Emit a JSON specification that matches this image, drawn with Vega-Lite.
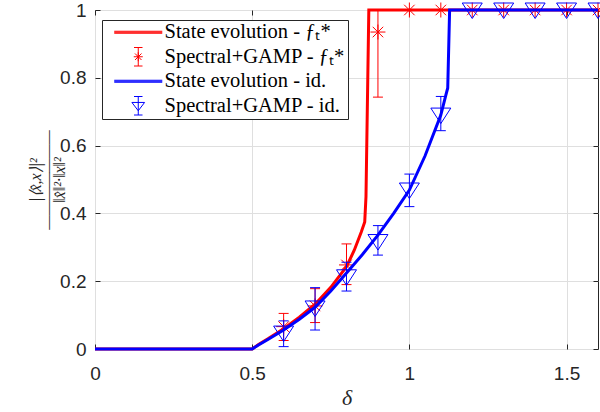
{
  "$schema": "https://vega.github.io/schema/vega-lite/v6.json",
  "width": 503,
  "height": 339,
  "autosize": "none",
  "padding": {"left": 95, "top": 10, "right": 2, "bottom": 63},
  "config": {
    "view": {"stroke": "#262626", "strokeWidth": 1},
    "axis": {
      "domain": false,
      "labelFont": "Liberation Sans",
      "labelFontSize": 19,
      "labelColor": "#262626",
      "labelFlush": false,
      "tickColor": "#262626",
      "tickSize": -5,
      "gridColor": "#dfdfdf",
      "gridWidth": 1,
      "titleColor": "#262626",
      "titleFontWeight": "normal"
    },
    "legend": {
      "orient": "none",
      "legendX": 7,
      "legendY": 10,
      "padding": 2,
      "strokeColor": "#262626",
      "fillColor": "white",
      "labelFont": "Liberation Serif",
      "labelFontSize": 20.5,
      "labelColor": "black",
      "symbolStrokeWidth": 1,
      "symbolSize": 100,
      "symbolOffset": 24,
      "labelOffset": 16,
      "rowPadding": 2.5,
      "labelLimit": 400
    }
  },
  "datasets": {
    "se": [
      {"s": "f", "d": 0, "v": 0}, {"s": "f", "d": 0.5, "v": 0}, {"s": "f", "d": 0.52, "v": 0.013},
      {"s": "f", "d": 0.55, "v": 0.03}, {"s": "f", "d": 0.6, "v": 0.06}, {"s": "f", "d": 0.65, "v": 0.094},
      {"s": "f", "d": 0.7, "v": 0.132}, {"s": "f", "d": 0.75, "v": 0.182}, {"s": "f", "d": 0.8, "v": 0.243},
      {"s": "f", "d": 0.825, "v": 0.292}, {"s": "f", "d": 0.847, "v": 0.345}, {"s": "f", "d": 0.858, "v": 0.375},
      {"s": "f", "d": 0.862, "v": 0.45}, {"s": "f", "d": 0.871, "v": 1}, {"s": "f", "d": 1.6, "v": 1},
      {"s": "id", "d": 0, "v": 0}, {"s": "id", "d": 0.5, "v": 0}, {"s": "id", "d": 0.52, "v": 0.012},
      {"s": "id", "d": 0.55, "v": 0.028}, {"s": "id", "d": 0.6, "v": 0.056}, {"s": "id", "d": 0.65, "v": 0.088},
      {"s": "id", "d": 0.7, "v": 0.123}, {"s": "id", "d": 0.75, "v": 0.171}, {"s": "id", "d": 0.8, "v": 0.224},
      {"s": "id", "d": 0.85, "v": 0.278}, {"s": "id", "d": 0.9, "v": 0.336}, {"s": "id", "d": 0.95, "v": 0.4},
      {"s": "id", "d": 1.0, "v": 0.469}, {"s": "id", "d": 1.05, "v": 0.57}, {"s": "id", "d": 1.1, "v": 0.69},
      {"s": "id", "d": 1.115, "v": 0.745}, {"s": "id", "d": 1.122, "v": 0.77}, {"s": "id", "d": 1.128, "v": 1},
      {"s": "id", "d": 1.6, "v": 1}
    ],
    "pts": [
      {"s": "f", "d": 0.6, "v": 0.066, "lo": 0.025, "hi": 0.105},
      {"s": "f", "d": 0.7, "v": 0.127, "lo": 0.078, "hi": 0.178},
      {"s": "f", "d": 0.8, "v": 0.248, "lo": 0.19, "hi": 0.31},
      {"s": "f", "d": 0.9, "v": 0.935, "lo": 0.743, "hi": 1.0},
      {"s": "f", "d": 1.0, "v": 1, "lo": 1, "hi": 1},
      {"s": "f", "d": 1.1, "v": 1, "lo": 1, "hi": 1},
      {"s": "f", "d": 1.2, "v": 1, "lo": 1, "hi": 1},
      {"s": "f", "d": 1.3, "v": 1, "lo": 1, "hi": 1},
      {"s": "f", "d": 1.4, "v": 1, "lo": 1, "hi": 1},
      {"s": "f", "d": 1.5, "v": 1, "lo": 1, "hi": 1},
      {"s": "f", "d": 1.6, "v": 1, "lo": 1, "hi": 1},
      {"s": "id", "d": 0.6, "v": 0.047, "lo": 0.007, "hi": 0.083},
      {"s": "id", "d": 0.7, "v": 0.121, "lo": 0.056, "hi": 0.181},
      {"s": "id", "d": 0.8, "v": 0.213, "lo": 0.171, "hi": 0.256},
      {"s": "id", "d": 0.9, "v": 0.317, "lo": 0.277, "hi": 0.364},
      {"s": "id", "d": 1.0, "v": 0.469, "lo": 0.42, "hi": 0.516},
      {"s": "id", "d": 1.1, "v": 0.69, "lo": 0.644, "hi": 0.745},
      {"s": "id", "d": 1.2, "v": 1, "lo": 1, "hi": 1},
      {"s": "id", "d": 1.3, "v": 1, "lo": 1, "hi": 1},
      {"s": "id", "d": 1.4, "v": 1, "lo": 1, "hi": 1},
      {"s": "id", "d": 1.5, "v": 1, "lo": 1, "hi": 1},
      {"s": "id", "d": 1.6, "v": 1, "lo": 1, "hi": 1}
    ],
    "leg": [
      {"lab": "State evolution - ƒₜ*"},
      {"lab": "Spectral+GAMP - ƒₜ*"},
      {"lab": "State evolution - id."},
      {"lab": "Spectral+GAMP - id."}
    ]
  },
  "layer": [
    {
      "data": {"name": "se"},
      "transform": [{"filter": "datum.s == 'f'"}],
      "mark": {"type": "line", "stroke": "#ff0000", "strokeWidth": 3},
      "encoding": {
        "x": {"field": "d", "type": "quantitative", "scale": {"domain": [0, 1.6], "nice": false, "zero": false},
          "axis": {"orient": "bottom", "values": [0, 0.5, 1, 1.5], "format": "~g", "grid": true, "labelPadding": 20,
            "title": "δ", "titleFont": "Liberation Serif", "titleFontStyle": "italic", "titleFontSize": 22, "titlePadding": 4}},
        "y": {"field": "v", "type": "quantitative", "scale": {"domain": [0, 1], "nice": false},
          "axis": {"orient": "left", "values": [0, 0.2, 0.4, 0.6, 0.8, 1], "format": "~g", "grid": true, "labelPadding": 14,
            "title": ["|⟨x̂,x⟩|²", "———————", "‖x̂‖²·‖x‖²"], "titleFont": "Liberation Serif", "titleFontStyle": "italic",
            "titleFontSize": 16, "titleLineHeight": 12, "titlePadding": -8}}
      }
    },
    {
      "data": {"name": "pts"},
      "transform": [{"filter": "datum.s == 'f'"}],
      "mark": {"type": "rule", "stroke": "#ff0000", "strokeWidth": 1},
      "encoding": {
        "x": {"field": "d", "type": "quantitative", "axis": null},
        "y": {"field": "lo", "type": "quantitative", "axis": null},
        "y2": {"field": "hi"}
      }
    },
    {
      "data": {"name": "pts"},
      "transform": [{"filter": "datum.s == 'f' && datum.d < 1"}, {"fold": ["lo", "hi"], "as": ["k", "cap"]}],
      "mark": {"type": "tick", "orient": "horizontal", "color": "#ff0000", "size": 10, "thickness": 1, "opacity": 1},
      "encoding": {
        "x": {"field": "d", "type": "quantitative", "axis": null},
        "y": {"field": "cap", "type": "quantitative", "axis": null}
      }
    },
    {
      "data": {"name": "pts"},
      "transform": [{"filter": "datum.s == 'f'"}],
      "mark": {"type": "point", "shape": "M0,-1V1M-1,0H1M-0.7,-0.7L0.7,0.7M-0.7,0.7L0.7,-0.7", "size": 225,
        "filled": false, "stroke": "#ff0000", "strokeWidth": 1, "opacity": 1},
      "encoding": {
        "x": {"field": "d", "type": "quantitative", "axis": null},
        "y": {"field": "v", "type": "quantitative", "axis": null}
      }
    },
    {
      "data": {"name": "se"},
      "transform": [{"filter": "datum.s == 'id'"}],
      "mark": {"type": "line", "stroke": "#0000ff", "strokeWidth": 3},
      "encoding": {
        "x": {"field": "d", "type": "quantitative",
          "axis": {"orient": "top", "values": [0, 0.5, 1, 1.5], "labels": false, "grid": false, "title": null}},
        "y": {"field": "v", "type": "quantitative",
          "axis": {"orient": "right", "values": [0, 0.2, 0.4, 0.6, 0.8, 1], "labels": false, "grid": false, "title": null}}
      }
    },
    {
      "data": {"name": "pts"},
      "transform": [{"filter": "datum.s == 'id'"}],
      "mark": {"type": "rule", "stroke": "#0000ff", "strokeWidth": 1},
      "encoding": {
        "x": {"field": "d", "type": "quantitative", "axis": null},
        "y": {"field": "lo", "type": "quantitative", "axis": null},
        "y2": {"field": "hi"}
      }
    },
    {
      "data": {"name": "pts"},
      "transform": [{"filter": "datum.s == 'id' && datum.d < 1.15"}, {"fold": ["lo", "hi"], "as": ["k", "cap"]}],
      "mark": {"type": "tick", "orient": "horizontal", "color": "#0000ff", "size": 10, "thickness": 1, "opacity": 1},
      "encoding": {
        "x": {"field": "d", "type": "quantitative", "axis": null},
        "y": {"field": "cap", "type": "quantitative", "axis": null}
      }
    },
    {
      "data": {"name": "pts"},
      "transform": [{"filter": "datum.s == 'id'"}],
      "mark": {"type": "point", "shape": "M-1,-0.7H1L0,0.85Z", "size": 400,
        "filled": false, "stroke": "#0000ff", "strokeWidth": 1, "opacity": 1},
      "encoding": {
        "x": {"field": "d", "type": "quantitative", "axis": null},
        "y": {"field": "v", "type": "quantitative", "axis": null}
      }
    },
    {
      "data": {"name": "leg"},
      "mark": {"type": "point", "filled": false, "opacity": 1, "strokeWidth": 1},
      "encoding": {
        "x": {"field": "d", "type": "quantitative", "axis": null},
        "y": {"field": "v", "type": "quantitative", "axis": null},
        "color": {"field": "lab", "type": "nominal",
          "scale": {"domain": ["State evolution - ƒₜ*", "Spectral+GAMP - ƒₜ*", "State evolution - id.", "Spectral+GAMP - id."],
            "range": ["#ff0000", "#ff0000", "#0000ff", "#0000ff"]},
          "legend": {"title": null}},
        "shape": {"field": "lab", "type": "nominal",
          "scale": {"domain": ["State evolution - ƒₜ*", "Spectral+GAMP - ƒₜ*", "State evolution - id.", "Spectral+GAMP - id."],
            "range": [
              "M-4.8,-0.2H4.8M-4.8,0H4.8M-4.8,0.2H4.8",
              "M0,-1.85V1.85M-0.85,-1.85H0.85M-0.85,1.85H0.85M0,-0.9V0.9M-0.9,0H0.9M-0.65,-0.65L0.65,0.65M-0.65,0.65L0.65,-0.65",
              "M-4.8,-0.2H4.8M-4.8,0H4.8M-4.8,0.2H4.8",
              "M0,-1.85V1.85M-0.85,-1.85H0.85M-0.85,1.85H0.85M-1.27,-0.66H1.27L0,1.0Z"
            ]},
          "legend": {"title": null}}
      }
    }
  ],
  "resolve": {"axis": {"x": "independent", "y": "independent"}}
}
